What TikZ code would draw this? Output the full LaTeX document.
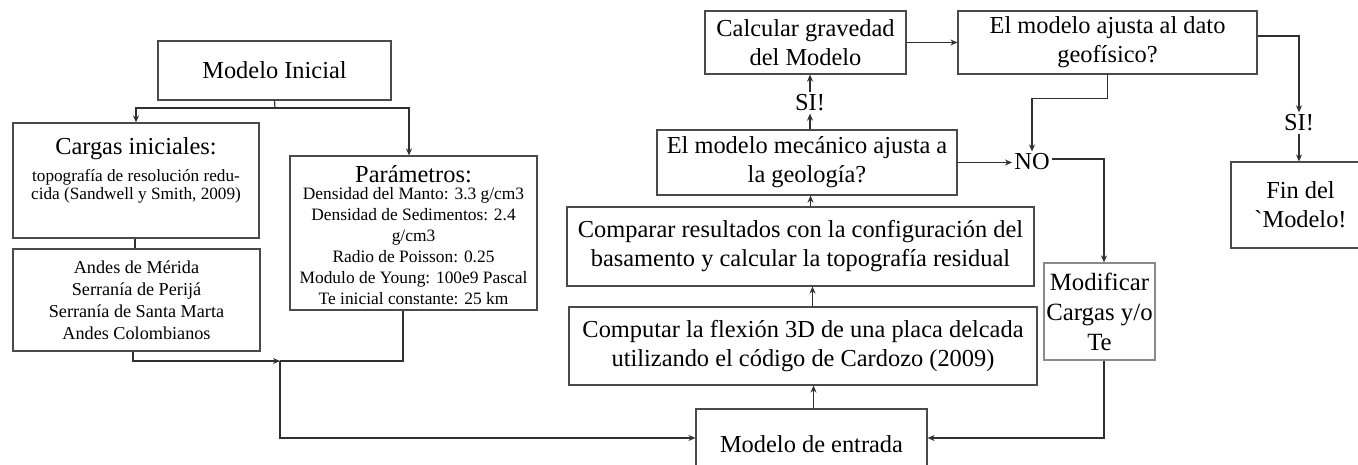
\documentclass[tikz,border=0pt]{standalone}
\usepackage{fontspec}
\setmainfont{Liberation Serif}[Ligatures=TeXOff]
\usetikzlibrary{arrows.meta}
\definecolor{boxc}{HTML}{4A4A4A}
\definecolor{linec}{HTML}{303030}
\definecolor{lightbox}{HTML}{8A8A8A}
\begin{document}
\begin{tikzpicture}[x=0.5pt,y=-0.5pt,
  box/.style={draw=boxc,line width=0.6pt,inner sep=0pt,align=center,text=black},
  big/.style={font=\fontsize{12.2}{14.5}\selectfont},
  med/.style={font=\fontsize{9.1}{11}\selectfont},
  arr/.style={draw=linec,line width=0.6pt,-{Stealth[length=3.5pt,width=3pt]}},
  ln/.style={draw=linec,line width=0.6pt},
  lab/.style={inner sep=1pt,font=\fontsize{12.2}{14.5}\selectfont}]
\useasboundingbox (0,0) rectangle (1358,465);
\clip (0,0) rectangle (1358,465);

% left column
\node[box,big,minimum width=116.5pt,minimum height=29.5pt] (ini) at (274.5,70.5) {Modelo Inicial};
\node[box,font=\fontsize{8.6}{9}\selectfont,minimum width=123pt,minimum height=57.5pt,text height=18.5pt,text depth=0pt] (cargas) at (136,180.5)
  {{\fontsize{12.2}{14.5}\selectfont Cargas iniciales:}\\[4.5pt]topografía de resolución redu-\\cida (Sandwell y Smith, 2009)};
\node[box,med,minimum width=123.5pt,minimum height=51pt] (andes) at (136.5,300)
  {Andes de Mérida\\Serranía de Perijá\\Serranía de Santa Marta\\Andes Colombianos};
\node[box,font=\fontsize{8.7}{10.5}\selectfont,minimum width=123.5pt,minimum height=77pt,text height=71pt,text depth=0pt] (param) at (413.5,233)
  {{\fontsize{12.2}{14.5}\selectfont Parámetros:}\\[-2pt]Densidad del Manto: 3.3 g/cm3\\Densidad de Sedimentos: 2.4\\g/cm3\\Radio de Poisson: 0.25\\Modulo de Young: 100e9 Pascal\\Te inicial constante: 25 km};

% central column
\node[box,big,minimum width=100.5pt,minimum height=31.5pt] (calc) at (805.5,42.5) {Calcular gravedad\\del Modelo};
\node[lab] (si1) at (810,103) {SI!};
\node[box,big,minimum width=150pt,minimum height=32.5pt] (mec) at (807,162.5) {El modelo mecánico ajusta a\\la geología?};
\node[box,big,minimum width=233.5pt,minimum height=39.5pt] (comp) at (800.5,246.5) {Comparar resultados con la configuración del\\basamento y calcular la topografía residual};
\node[box,big,minimum width=234pt,minimum height=39pt] (flex) at (803,346) {Computar la flexión 3D de una placa delcada\\utilizando el código de Cardozo (2009)};
\node[box,big,minimum width=115.5pt,minimum height=35.5pt] (entrada) at (811.5,444.5) {Modelo de entrada};

% right part
\node[box,big,minimum width=149.5pt,minimum height=31.5pt] (ajusta) at (1107.5,42.5) {El modelo ajusta al dato\\geofísico?};
\node[lab] (no) at (1032,162) {NO};
\node[box,draw=lightbox,font=\fontsize{12.4}{15}\selectfont,minimum width=55.5pt,minimum height=48.5pt] (modif) at (1099.5,311.5) {Modificar\\Cargas y/o\\Te};
\node[lab] (si2) at (1299,123) {SI!};
\node[box,big,minimum width=69.5pt,minimum height=43pt] (fin) at (1300.5,205) {Fin del\\`Modelo!};

% connectors
\coordinate (j1) at (275,108);
\coordinate (j2) at (280,361);
\draw[ln] (ini.south) -- (j1);
\draw[arr] (j1) -| (cargas.north);
\draw[arr] (j1) -| ([xshift=-2.25pt]param.north);
\draw[ln] ([xshift=-0.5pt]cargas.south) -- ([xshift=-0.75pt]andes.north);
\draw[arr] ([xshift=-1.75pt]andes.south) |- (j2);
\draw[ln] ([xshift=-5.25pt]param.south) |- (j2);
\draw[arr] (j2) |- ([yshift=3.25pt]entrada.west);

\draw[arr] ([xshift=1pt]entrada.north) -- ([xshift=1pt]entrada.north |- flex.south);
\draw[arr] ([xshift=0.5pt]entrada.north |- flex.north) -- ([xshift=0.5pt]entrada.north |- comp.south);
\draw[arr] ([xshift=-0.5pt]entrada.north |- comp.north) -- ([xshift=-0.5pt]entrada.north |- mec.south);
\draw[arr] (mec.north -| si1) -- (si1.south);
\draw[arr] (si1.north) -- (si1.north |- calc.south);
\draw[arr] (calc.east) -- (calc.east -| ajusta.west);
\draw[arr] ([yshift=3.25pt]ajusta.east) -| (si2.north);
\draw[arr] (si2.south) -- (si2.south |- fin.north);
\draw[arr] (ajusta.south) -- ++(0,24) -| (no.north);
\draw[arr] (mec.east) -- (mec.east -| no.west);
\draw[arr] ([yshift=1.5pt]no.east) -| ([xshift=2.25pt]modif.north);
\draw[arr] ([xshift=2.25pt]modif.south) |- ([yshift=3.25pt]entrada.east);
\end{tikzpicture}
\end{document}
